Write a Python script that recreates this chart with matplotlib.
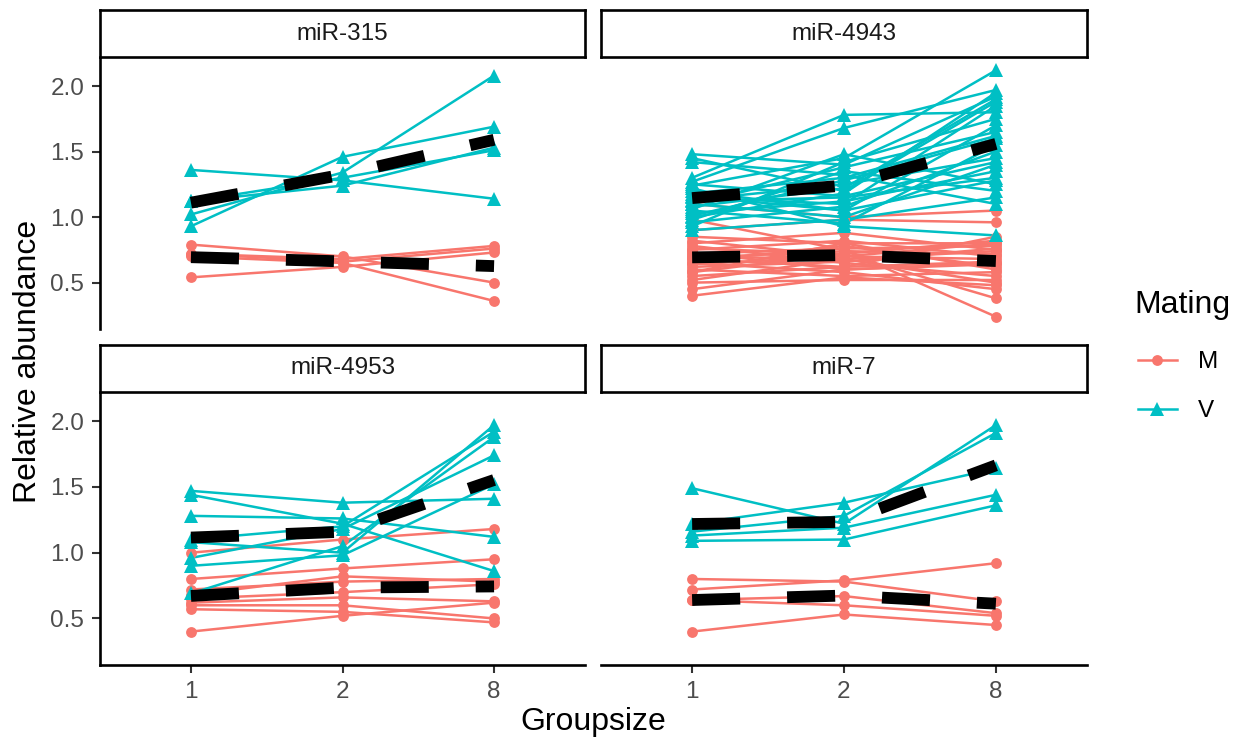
import numpy as np
import matplotlib
matplotlib.use("Agg")
import matplotlib.pyplot as plt
from matplotlib.lines import Line2D

plt.rcParams['font.family'] = ['Liberation Sans', 'DejaVu Sans']
plt.rcParams['lines.scale_dashes'] = False

# x categories
groupsize = ["1", "2", "8"]
mating = ["M", "V"]
colors = {"M": "#F8766D", "V": "#00BFC4"}
markers = {"M": "o", "V": "^"}
msize = {"M": 7.8, "V": 9.5}

# relative abundance per sample at groupsize 1, 2, 8
mir315_M = [
    [0.79, 0.70, 0.50],
    [0.72, 0.68, 0.78],
    [0.70, 0.65, 0.36],
    [0.72, 0.66, 0.76],
    [0.54, 0.62, 0.73],
]
mir315_V = [
    [1.36, 1.28, 1.14],
    [0.93, 1.46, 1.69],
    [1.02, 1.34, 2.08],
    [1.12, 1.24, 1.53],
    [1.12, 1.30, 1.51],
]

mir4943_M = [
    [1.10, 1.00, 1.05], [0.98, 0.75, 0.24], [0.90, 0.98, 0.96],
    [0.85, 0.80, 0.60], [0.82, 0.70, 0.80], [0.80, 0.88, 0.75],
    [0.78, 0.65, 0.55], [0.76, 0.72, 0.82], [0.75, 0.82, 0.70],
    [0.73, 0.60, 0.65], [0.72, 0.76, 0.78], [0.70, 0.68, 0.50],
    [0.69, 0.74, 0.72], [0.68, 0.62, 0.85], [0.66, 0.78, 0.62],
    [0.65, 0.58, 0.45], [0.64, 0.70, 0.68], [0.62, 0.66, 0.76],
    [0.60, 0.55, 0.58], [0.58, 0.72, 0.38], [0.55, 0.62, 0.66],
    [0.52, 0.68, 0.74], [0.50, 0.52, 0.52], [0.45, 0.60, 0.64],
    [0.40, 0.54, 0.48], [0.58, 0.80, 0.80],
]
mir4943_V = [
    [1.48, 1.40, 1.92], [1.45, 1.20, 1.88], [1.42, 1.32, 1.10],
    [1.30, 1.78, 1.80], [1.27, 1.68, 1.97], [1.24, 1.45, 2.12],
    [1.20, 1.05, 1.70], [1.18, 1.30, 1.62], [1.15, 1.10, 1.85],
    [1.13, 1.25, 1.45], [1.12, 1.15, 1.30], [1.10, 1.38, 1.65],
    [1.10, 1.00, 1.40], [1.08, 1.22, 1.90], [1.06, 1.48, 1.25],
    [1.05, 0.95, 1.55], [1.03, 1.12, 1.35], [1.01, 1.28, 1.60],
    [1.00, 1.18, 1.95], [0.98, 1.35, 1.20], [0.96, 1.08, 1.50],
    [0.93, 1.42, 1.75], [0.90, 0.98, 1.15], [1.22, 0.93, 0.86],
    [1.25, 1.16, 1.42], [1.16, 1.05, 1.28],
]

mir4953_M = [
    [1.00, 1.10, 1.18],
    [0.80, 0.88, 0.95],
    [0.72, 0.78, 0.80],
    [0.68, 0.82, 0.78],
    [0.65, 0.70, 0.76],
    [0.62, 0.66, 0.63],
    [0.60, 0.60, 0.50],
    [0.57, 0.55, 0.47],
    [0.40, 0.52, 0.62],
]
mir4953_V = [
    [1.47, 1.38, 1.41],
    [1.44, 1.22, 0.86],
    [1.28, 1.26, 1.12],
    [1.10, 1.20, 1.92],
    [1.08, 1.00, 1.97],
    [0.96, 1.18, 1.74],
    [0.90, 0.98, 1.52],
    [0.69, 1.05, 1.88],
]

mir7_M = [
    [0.80, 0.78, 0.63],
    [0.72, 0.79, 0.92],
    [0.64, 0.67, 0.54],
    [0.64, 0.60, 0.52],
    [0.40, 0.53, 0.45],
]
mir7_V = [
    [1.49, 1.22, 1.97],
    [1.22, 1.38, 1.64],
    [1.16, 1.28, 1.91],
    [1.13, 1.19, 1.44],
    [1.09, 1.10, 1.36],
]

panels = [
    ("miR-315", {"M": mir315_M, "V": mir315_V}),
    ("miR-4943", {"M": mir4943_M, "V": mir4943_V}),
    ("miR-4953", {"M": mir4953_M, "V": mir4953_V}),
    ("miR-7", {"M": mir7_M, "V": mir7_V}),
]

W, H = 1236, 743
fig = plt.figure(figsize=(W / 100, H / 100), dpi=100)


def px_box(x0, y0, x1, y1):
    return [x0 / W, 1 - y1 / H, (x1 - x0) / W, (y1 - y0) / H]


cols = [(100, 585), (601, 1087)]
rows = [(58, 329), (393, 665)]
strip_h = 47

# shared y range, ggplot-style 5% expansion
all_vals = np.concatenate([np.array(d[m]).ravel() for _, d in panels for m in mating])
span = all_vals.max() - all_vals.min()
ylo, yhi = all_vals.min() - 0.05 * span, all_vals.max() + 0.05 * span

xpos = np.arange(1, len(groupsize) + 1)
axis_lw = 1.9

for i, (name, data) in enumerate(panels):
    r, c = divmod(i, 2)
    x0, x1 = cols[c]
    y0, y1 = rows[r]

    # strip
    sax = fig.add_axes(px_box(x0, y0 - strip_h - 1, x1, y0 - 1))
    sax.set_xticks([])
    sax.set_yticks([])
    for sp in sax.spines.values():
        sp.set_linewidth(axis_lw)
        sp.set_color("black")
    sax.text(0.5, 0.5, name, ha="center", va="center", fontsize=17.5, color="#1A1A1A",
             transform=sax.transAxes)

    ax = fig.add_axes(px_box(x0, y0, x1, y1))
    ax.set_facecolor("none")

    # individual samples: lines first, then points
    for m in mating:
        for row in data[m]:
            ax.plot(xpos, row, color=colors[m], lw=1.8, zorder=2)
    for m in mating:
        for row in data[m]:
            ax.plot(xpos, row, linestyle="none", marker=markers[m], color=colors[m],
                    markersize=msize[m], markeredgewidth=0, zorder=3)

    # group means, thick dashed
    for m in mating:
        means = np.mean(np.array(data[m]), axis=0)
        ax.plot(xpos, means, color="black", lw=8.5, dashes=(34.6, 33.8),
                dash_capstyle="butt", zorder=5)

    ax.set_xlim(0.4, len(groupsize) + 0.6)
    ax.set_ylim(ylo, yhi)
    ax.set_xticks(xpos)
    ax.set_xticklabels(groupsize)
    ax.set_yticks([0.5, 1.0, 1.5, 2.0])
    ax.set_yticklabels(["0.5", "1.0", "1.5", "2.0"])
    ax.tick_params(length=5.8, width=1.5, color="#333333", labelsize=17.5,
                   labelcolor="#4D4D4D", pad=5.5)

    ax.spines["top"].set_visible(False)
    ax.spines["right"].set_visible(False)
    ax.spines["left"].set_linewidth(axis_lw)
    ax.spines["bottom"].set_linewidth(axis_lw)
    if c == 1:
        ax.spines["left"].set_visible(False)
        ax.tick_params(left=False, labelleft=False)
    if r == 0:
        ax.spines["bottom"].set_visible(False)
        ax.tick_params(bottom=False, labelbottom=False)

fig.text(593 / W, 1 - 722 / H, "Groupsize", ha="center", va="center", fontsize=23)
fig.text(28 / W, 1 - 361 / H, "Relative abundance", ha="center", va="center",
         rotation=90, fontsize=23)

# legend: title as text, entries as a frameless legend
fig.text(1134 / W, 1 - 305 / H, "Mating", ha="left", va="center", fontsize=23)
handles = [Line2D([], [], color=colors[m], lw=1.8, marker=markers[m],
                  markersize=msize[m], markeredgewidth=0) for m in mating]
fig.legend(handles, mating, loc="upper left", bbox_to_anchor=(1138 / W, 1 - 351 / H),
           frameon=False, fontsize=17.5, handlelength=1.6, handletextpad=0.86,
           labelspacing=1.12, borderpad=0, borderaxespad=0)

fig.savefig("out.png", dpi=100)
